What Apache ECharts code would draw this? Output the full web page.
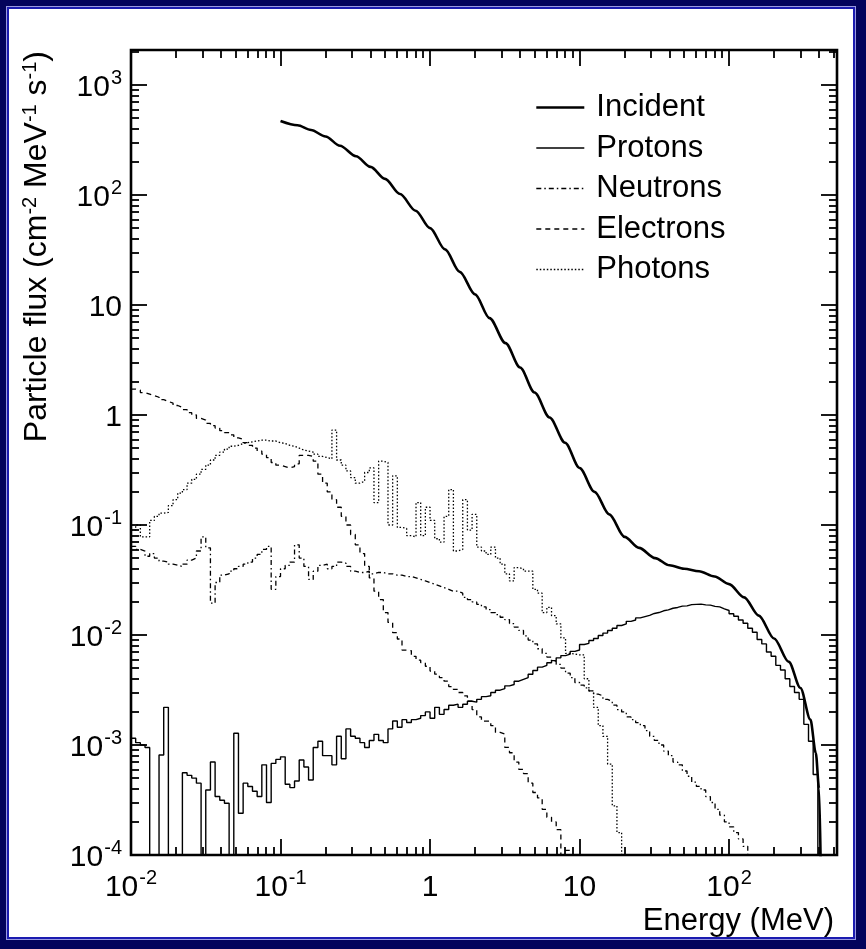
<!DOCTYPE html>
<html>
<head>
<meta charset="utf-8">
<title>Particle flux vs energy</title>
<script src="https://cdn.jsdelivr.net/npm/echarts@6/dist/echarts.min.js"></script>
<style>
  html, body { margin: 0; padding: 0; background: #fff; }
  #chart { width: 866px; height: 949px; }
  #frame {
    position: absolute; left: 0; top: 0; width: 866px; height: 949px;
    box-sizing: border-box; pointer-events: none;
    border-style: solid; border-color: #03035c; border-width: 6px 10px 9px 6px;
    box-shadow: inset 0 0 0 1px #9a9ae0, inset 0 0 0 3px #1b1bb0;
  }
</style>
</head>
<body>
<div id="chart"></div>
<div id="frame"></div>
<script>
// histograms: 32 log bins per decade, first bin edge at 10 keV
const binsPerDecade = 32;
const firstEdge = 0.01;

const incidentEnergy = [0.1, 0.13, 0.16, 0.2, 0.25, 0.32, 0.4, 0.5, 0.63, 0.8, 1.0, 1.26, 1.58, 2.0, 2.5, 3.2, 4.0, 5.0, 6.3, 8.0,
  10, 12.6, 15.8, 20, 25, 32, 40, 50, 63, 80, 100, 126, 158, 200, 251, 300, 350, 380, 400, 410];
const incidentFlux = [470, 430, 390, 340, 280, 225, 180, 140, 102, 72, 50, 32, 20, 12.5, 7.6, 4.5, 2.7, 1.6, 0.95, 0.56,
  0.33, 0.2, 0.125, 0.078, 0.062, 0.05, 0.043, 0.04, 0.038, 0.034, 0.029, 0.022, 0.015, 0.0093, 0.0057, 0.0033, 0.0017, 0.00085, 0.0004, 0.00008];

const protonFlux = [
  1.15e-3, 1.05e-3, 1.0e-3, 9.5e-4, 0, 0, 8.1e-4, 2.2e-3, 0, 0,
  0, 5.6e-4, 5.3e-4, 5.0e-4, 4.5e-4, 0, 3.9e-4, 7.0e-4, 3.4e-4, 3.15e-4,
  2.95e-4, 0, 1.28e-3, 2.4e-4, 4.5e-4, 4.2e-4, 3.8e-4, 3.4e-4, 6.6e-4, 3.0e-4,
  6.8e-4, 7.4e-4, 7.8e-4, 4.4e-4, 4.1e-4, 4.7e-4, 7.3e-4, 6.3e-4, 4.8e-4, 9.5e-4,
  1.08e-3, 8.0e-4, 8.0e-4, 6.6e-4, 1.2e-3, 7.5e-4, 1.4e-3, 1.2e-3, 1.15e-3, 1.05e-3,
  9.5e-4, 1.1e-3, 1.25e-3, 1.1e-3, 1.05e-3, 1.4e-3, 1.65e-3, 1.45e-3, 1.7e-3, 1.6e-3,
  1.7e-3, 1.75e-3, 1.85e-3, 2.0e-3, 1.75e-3, 2.2e-3, 1.9e-3, 2.1e-3, 2.3e-3, 2.35e-3,
  2.2e-3, 2.35e-3, 2.5e-3, 2.45e-3, 2.6e-3, 2.75e-3, 2.8e-3, 3.0e-3, 3.15e-3, 3.25e-3,
  3.45e-3, 3.55e-3, 3.8e-3, 3.95e-3, 4.1e-3, 4.4e-3, 4.75e-3, 5.1e-3, 5.3e-3, 5.6e-3,
  5.85e-3, 6.2e-3, 6.5e-3, 6.7e-3, 7.1e-3, 7.3e-3, 8.2e-3, 8.4e-3, 8.9e-3, 9.3e-3,
  9.9e-3, 1.04e-2, 1.1e-2, 1.15e-2, 1.22e-2, 1.26e-2, 1.33e-2, 1.37e-2, 1.43e-2, 1.47e-2,
  1.51e-2, 1.57e-2, 1.6e-2, 1.66e-2, 1.69e-2, 1.75e-2, 1.78e-2, 1.83e-2, 1.84e-2, 1.89e-2,
  1.9e-2, 1.91e-2, 1.88e-2, 1.87e-2, 1.82e-2, 1.8e-2, 1.73e-2, 1.67e-2, 1.56e-2, 1.48e-2,
  1.37e-2, 1.28e-2, 1.15e-2, 1.06e-2, 9.1e-3, 8.3e-3, 7.0e-3, 6.4e-3, 5.3e-3, 4.8e-3,
  4.0e-3, 3.4e-3, 3.0e-3, 2.6e-3, 1.54e-3, 1.08e-3, 5.4e-4
];

const neutronFlux = [
  0.064, 0.06, 0.058, 0.052, 0.055, 0.05, 0.047, 0.046, 0.044, 0.043,
  0.042, 0.044, 0.048, 0.05, 0.058, 0.078, 0.062, 0.0195, 0.03, 0.035,
  0.036, 0.038, 0.04, 0.042, 0.044, 0.046, 0.05, 0.054, 0.06, 0.064,
  0.026, 0.034, 0.04, 0.043, 0.046, 0.066, 0.05, 0.042, 0.032, 0.038,
  0.043, 0.044, 0.04, 0.042, 0.046, 0.045, 0.042, 0.038, 0.037, 0.037,
  0.038, 0.036, 0.037, 0.037, 0.036, 0.036, 0.035, 0.035, 0.034, 0.034,
  0.033, 0.032, 0.031, 0.03, 0.029, 0.028, 0.027, 0.026, 0.025, 0.025,
  0.024, 0.022, 0.021, 0.02, 0.019, 0.018, 0.017, 0.016, 0.0153, 0.0145,
  0.0138, 0.0127, 0.0118, 0.011, 0.0098, 0.009, 0.0083, 0.0075, 0.0068, 0.0063,
  0.0058, 0.0054, 0.005, 0.0045, 0.0041, 0.0037, 0.0035, 0.0033, 0.0031, 0.0029,
  0.0028, 0.0026, 0.0025, 0.0023, 0.0021, 0.002, 0.0018, 0.0017, 0.0016, 0.0015,
  0.00135, 0.0012, 0.0011, 0.001, 0.00088, 0.0008, 0.0007, 0.00066, 0.00058, 0.00052,
  0.00046, 0.00042, 0.00039, 0.00034, 0.0003, 0.00026, 0.00023, 0.0002, 0.00018, 0.00016,
  0.00014, 0.00012, 0.00008
];

const electronFlux = [
  1.72, 1.68, 1.6, 1.55, 1.5, 1.45, 1.38, 1.33, 1.28, 1.22,
  1.17, 1.12, 1.05, 1.0, 0.93, 0.9, 0.84, 0.8, 0.76, 0.72,
  0.69, 0.66, 0.62, 0.6, 0.56, 0.53, 0.5, 0.47, 0.44, 0.41,
  0.37, 0.35, 0.34, 0.33, 0.34, 0.36, 0.43, 0.43, 0.42, 0.38,
  0.29, 0.24, 0.2, 0.17, 0.145, 0.12, 0.1, 0.082, 0.066, 0.055,
  0.042, 0.033, 0.025, 0.021, 0.016, 0.013, 0.0105, 0.0092, 0.0073, 0.0072,
  0.0064, 0.0059, 0.0056, 0.0052, 0.0047, 0.0044, 0.0041, 0.0038, 0.0034, 0.0032,
  0.003, 0.0028, 0.0025, 0.0021, 0.0018, 0.00165, 0.00165, 0.0015, 0.0013, 0.00126,
  0.00095, 0.00085, 0.0007, 0.0006, 0.00055, 0.00045, 0.00037, 0.00033, 0.00026, 0.00022,
  0.0002, 0.00017, 0, 0.00011
];

const photonFlux = [
  0.09, 0.1, 0.078, 0.078, 0.11, 0.12, 0.128, 0.13, 0.15, 0.17,
  0.195, 0.21, 0.24, 0.26, 0.29, 0.32, 0.35, 0.39, 0.43, 0.46,
  0.49, 0.52, 0.53, 0.55, 0.56, 0.57, 0.58, 0.59, 0.59, 0.58,
  0.58, 0.56, 0.55, 0.53, 0.52, 0.5, 0.48, 0.47, 0.46, 0.44,
  0.42, 0.41, 0.4, 0.73, 0.39, 0.35, 0.31, 0.27, 0.24, 0.25,
  0.3, 0.33, 0.16, 0.38, 0.37, 0.1, 0.28, 0.095, 0.093, 0.08,
  0.078, 0.16, 0.08, 0.145, 0.11, 0.075, 0.07, 0.12, 0.21, 0.058,
  0.06, 0.17, 0.09, 0.125, 0.063, 0.058, 0.054, 0.063, 0.05, 0.044,
  0.036, 0.031, 0.041, 0.04, 0.038, 0.038, 0.026, 0.024, 0.016, 0.0178,
  0.015, 0.0126, 0.0094, 0.0068, 0.0067, 0.0066, 0.0066, 0.004, 0.0031, 0.0022,
  0.0015, 0.0012, 0.00067, 0.00028, 0.00016
];

const legendNames = ['Incident', 'Protons', 'Neutrons', 'Electrons', 'Photons'];
const xMajorExp = [-2, -1, 0, 1, 2];
const yMajorExp = [-4, -3, -2, -1, 0, 1, 2, 3];

const xMin = 0.01, xMax = 527;
const yMin = 1e-4, yMax = 2080;
const FONT = '"Liberation Sans", Arial, Helvetica, sans-serif';
const EMPTY = 1e-8; // empty bins, drawn below the frame

const lineStyles = {
  Incident: { color: '#000', width: 2.6 },
  Protons: { color: '#000', width: 1.4 },
  Neutrons: { color: '#000', width: 1.3, type: [5, 3, 1.5, 3] },
  Electrons: { color: '#000', width: 1.3, type: [5, 4] },
  Photons: { color: '#000', width: 1.3, type: [1.5, 2] }
};

function binEdge(k) {
  return firstEdge * Math.pow(10, k / binsPerDecade);
}

function histogram(values) {
  const pts = values.map((v, k) => [binEdge(k), v > 0 ? v : EMPTY]);
  pts.push([binEdge(values.length), EMPTY]);
  return pts;
}

// 2..9 minor ticks inside a log range, as exponents
function minorExp(lo, hi) {
  const out = [];
  for (let d = Math.floor(lo); d < hi; d++) {
    for (let m = 2; m <= 9; m++) {
      const e = d + Math.log10(m);
      if (e > lo && e < hi) out.push(e);
    }
  }
  return out;
}

function powLabel(v) {
  const e = Math.round(v);
  if (e === 0) return '{b|1}';
  if (e === 1) return '{b|10}';
  return '{b|10}{s|' + e + '}';
}

const labelRich = {
  b: { fontSize: 30, fontFamily: FONT, color: '#000', lineHeight: 36, verticalAlign: 'bottom' },
  s: { fontSize: 20, fontFamily: FONT, color: '#000', lineHeight: 20, verticalAlign: 'bottom', padding: [0, 0, 15, 1] }
};

// overlay value axes in exponent space, only used to draw ticks and labels
function tickAxis(position, lo, hi, values, len, withLabels, margin) {
  return {
    type: 'value',
    position: position,
    min: lo,
    max: hi,
    axisLine: { show: false, onZero: false },
    splitLine: { show: false },
    axisTick: {
      show: true,
      inside: true,
      length: len,
      customValues: values,
      lineStyle: { color: '#000', width: 1.8 }
    },
    axisLabel: withLabels ? {
      show: true,
      customValues: values,
      margin: margin,
      formatter: powLabel,
      rich: labelRich
    } : { show: false }
  };
}

const xLo = Math.log10(xMin), xHi = Math.log10(xMax);
const yLo = Math.log10(yMin), yHi = Math.log10(yMax);
const xMinor = minorExp(xLo, xHi);
const yMinor = minorExp(yLo, yHi);

function histSeries(name, values) {
  return {
    name: name, type: 'line', xAxisIndex: 0, yAxisIndex: 0, step: 'end',
    data: histogram(values), symbol: 'none',
    itemStyle: { color: '#000' },
    lineStyle: lineStyles[name]
  };
}

const chart = echarts.init(document.getElementById('chart'));

const option = {
  animation: false,
  backgroundColor: '#fff',
  grid: {
    left: 131, top: 50, width: 706, height: 805,
    show: true, borderColor: '#000', borderWidth: 2.6, backgroundColor: '#fff'
  },
  legend: {
    left: 535, top: 92, orient: 'vertical', padding: 0,
    itemWidth: 48, itemHeight: 30, itemGap: 9.5,
    selectedMode: false,
    itemStyle: { opacity: 0 },
    textStyle: { fontSize: 31, fontFamily: FONT, color: '#000', lineHeight: 30, padding: [0, 0, 0, 7] },
    data: legendNames.map(n => ({ name: n, lineStyle: lineStyles[n] }))
  },
  xAxis: [
    { type: 'log', logBase: 10, min: xMin, max: xMax, show: false },
    tickAxis('bottom', xLo, xHi, xMajorExp, 16, true, 12),
    tickAxis('bottom', xLo, xHi, xMinor, 8, false),
    tickAxis('top', xLo, xHi, xMajorExp, 16, false),
    tickAxis('top', xLo, xHi, xMinor, 8, false)
  ],
  yAxis: [
    { type: 'log', logBase: 10, min: yMin, max: yMax, show: false },
    tickAxis('left', yLo, yHi, yMajorExp, 16, true, 9),
    tickAxis('left', yLo, yHi, yMinor, 8, false),
    tickAxis('right', yLo, yHi, yMajorExp, 16, false),
    tickAxis('right', yLo, yHi, yMinor, 8, false)
  ],
  graphic: [
    {
      type: 'text', x: 834, y: 921,
      style: { text: 'Energy (MeV)', fontSize: 31, fontFamily: FONT, fill: '#000', align: 'right', verticalAlign: 'middle' }
    },
    {
      type: 'text', x: 37, y: 51, rotation: Math.PI / 2,
      style: {
        text: 'Particle flux (cm{s|-2} MeV{s|-1} s{s|-1})',
        fontSize: 32, fontFamily: FONT, fill: '#000', align: 'right', verticalAlign: 'middle',
        rich: {
          s: { fontSize: 20, fontFamily: FONT, fill: '#000', verticalAlign: 'bottom', padding: [0, 0, 14, 0] }
        }
      }
    }
  ],
  series: [
    {
      name: 'Incident', type: 'line', xAxisIndex: 0, yAxisIndex: 0,
      data: incidentEnergy.map((e, i) => [e, incidentFlux[i]]),
      symbol: 'none', smooth: 0.3, smoothMonotone: 'x',
      itemStyle: { color: '#000' },
      lineStyle: lineStyles.Incident
    },
    histSeries('Protons', protonFlux),
    histSeries('Neutrons', neutronFlux),
    histSeries('Electrons', electronFlux),
    histSeries('Photons', photonFlux)
  ]
};

chart.setOption(option);
window.addEventListener('resize', () => { chart.resize(); });
</script>
</body>
</html>
